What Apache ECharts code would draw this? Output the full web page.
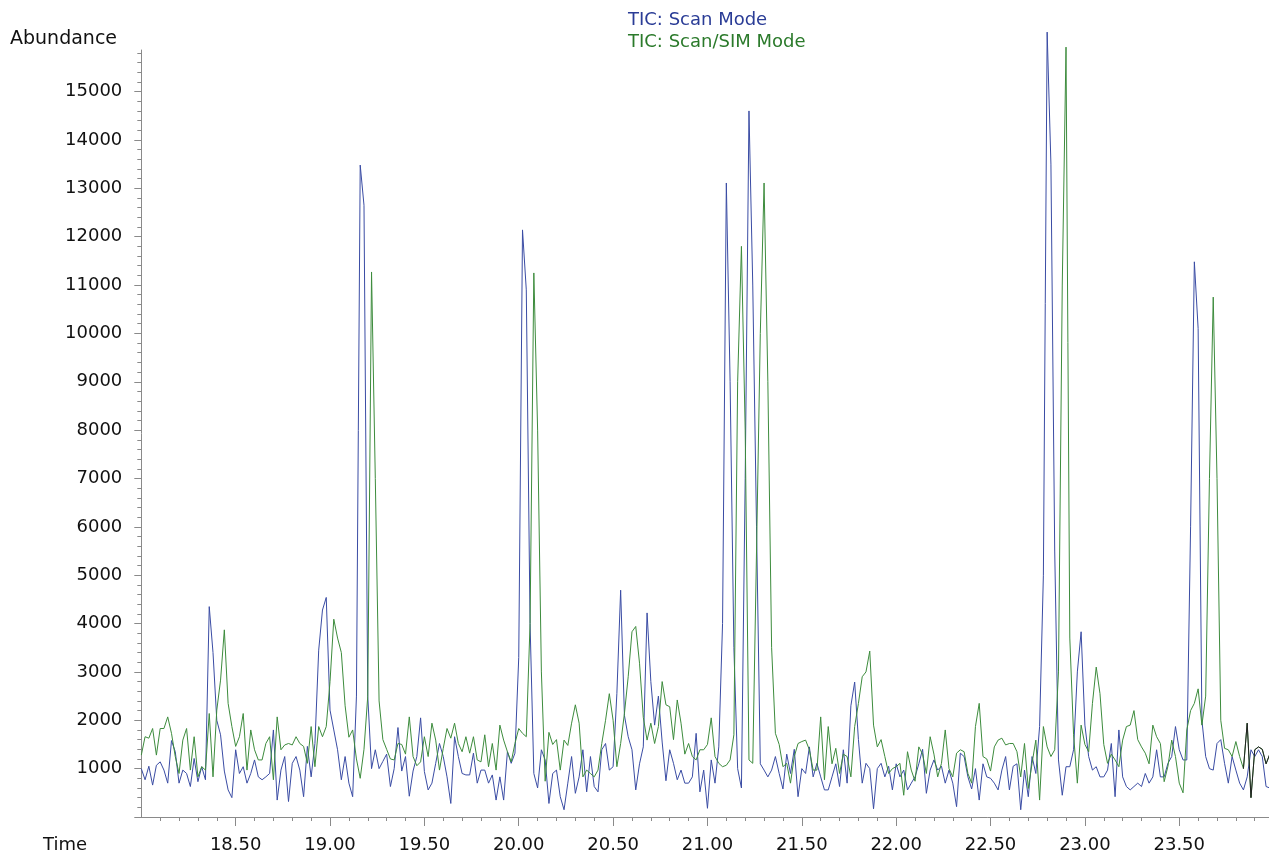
<!DOCTYPE html>
<html>
<head>
<meta charset="utf-8">
<title>TIC: Scan Mode vs Scan/SIM Mode</title>
<script src="https://cdn.jsdelivr.net/npm/echarts@6/dist/echarts.min.js"></script>
<style>
  html, body { margin: 0; padding: 0; background: #ffffff; }
  #chart { width: 1269px; height: 854px; }
</style>
</head>
<body>
<div id="chart"></div>
<script>
// Acquisition: one scan every 0.02 min, starting at 18.00 min
const scanStart = 18.0;
const scanStep = 0.02;

const seriesNames = ['TIC: Scan Mode', 'TIC: Scan/SIM Mode'];

// Total ion current, Scan mode (abundance per scan)
const scanModeTIC = [
  1000, 770, 1050, 660, 1070, 1140, 970, 700, 1580, 1350,
  700, 970, 900, 630, 1210, 730, 1040, 770, 4350, 3400,
  2000, 1700, 950, 560, 400, 1390, 900, 1040, 700, 900,
  1180, 830, 770, 830, 900, 1800, 350, 970, 1250, 320,
  1110, 1250, 970, 420, 1460, 830, 1520, 3450, 4280, 4540,
  2210, 1800, 1390, 770, 1250, 700, 420, 2500, 13480, 12650,
  2500, 1000, 1390, 1000, 1150, 1300, 630, 1000, 1850, 950,
  1250, 430, 950, 1250, 2050, 940, 560, 700, 1110, 1520,
  1250, 830, 280, 1660, 1250, 900, 870, 870, 1320, 700,
  970, 970, 700, 870, 350, 830, 350, 1350, 1110, 1320,
  3300, 12140, 10900, 4000, 900, 600, 1390, 1180, 280, 900,
  970, 420, 150, 700, 1250, 490, 830, 1390, 520, 1250,
  630, 520, 1390, 1520, 970, 1040, 2550, 4690, 2100, 1660,
  1390, 560, 1100, 1450, 4220, 2800, 1900, 2500, 1550, 750,
  1390, 1110, 770, 970, 700, 700, 830, 1730, 520, 970,
  180, 1180, 700, 1450, 4000, 13110, 9000, 3500, 1000, 600,
  7000, 14600, 11000, 6000, 1100, 970, 830, 970, 1250, 900,
  580, 1300, 900, 1400, 420, 1000, 900, 1450, 830, 1110,
  830, 560, 560, 830, 1100, 630, 1390, 700, 2300, 2790,
  1600, 700, 1110, 1000, 170, 1000, 1110, 830, 1050, 560,
  1100, 830, 970, 560, 700, 830, 1100, 1400, 490, 970,
  1180, 970, 1050, 700, 970, 700, 214, 1320, 1250, 830,
  580, 1000, 350, 1100, 830, 800, 700, 560, 970, 1250,
  560, 1050, 1100, 150, 970, 420, 1250, 900, 1870, 5000,
  16230, 13500, 5500, 1180, 450, 1040, 1040, 1390, 3000, 3830,
  1900, 1250, 970, 1040, 830, 830, 970, 1520, 420, 1800,
  830, 630, 560, 630, 700, 630, 900, 700, 830, 1390,
  830, 830, 1110, 1250, 1870, 1390, 1180, 1180, 6000, 11480,
  10100, 2000, 1250, 1000, 970, 1520, 1600, 1110, 700, 1250,
  970, 700, 560, 830, 1390, 1250, 1390, 1250, 630, 600
];

// Total ion current, Scan/SIM mode (abundance per scan)
const scanSimModeTIC = [
  1280, 1660, 1630, 1830, 1280, 1830, 1830, 2070, 1730, 1250,
  900, 1590, 1830, 970, 1660, 830, 1040, 970, 2140, 830,
  2210, 2830, 3870, 2350, 1870, 1460, 1660, 2140, 970, 1800,
  1390, 1180, 1180, 1520, 1660, 770, 2070, 1390, 1490, 1520,
  1490, 1660, 1520, 1460, 1110, 1870, 1040, 1870, 1660, 1870,
  2800, 4090, 3700, 3400, 2300, 1650, 1800, 1200, 800, 1400,
  2500, 11270, 7000, 2400, 1600, 1400, 1200, 1180, 1520, 1500,
  1300, 2070, 1250, 1060, 1140, 1660, 1250, 1940, 1590, 970,
  1420, 1830, 1630, 1940, 1520, 1350, 1660, 1320, 1660, 1180,
  1140, 1700, 1040, 1520, 970, 1900, 1590, 1350, 1140, 1520,
  1830, 1730, 1660, 4000, 11250, 8000, 3000, 740, 1750, 1500,
  1600, 970, 1590, 1480, 1940, 2320, 1940, 830, 970, 900,
  830, 970, 1520, 2000, 2550, 2000, 1040, 1520, 2140, 2900,
  3830, 3940, 3180, 2060, 1590, 1940, 1520, 1870, 2800, 2320,
  2280, 1600, 2420, 1940, 1300, 1520, 1250, 1180, 1390, 1390,
  1500, 2050, 1250, 1110, 1040, 1070, 1180, 1700, 9000, 11800,
  8000, 1180, 1110, 5500, 10000, 13110, 9000, 3500, 1730, 1500,
  1040, 1110, 700, 1250, 1520, 1560, 1590, 1390, 970, 970,
  2070, 770, 1870, 1100, 1420, 900, 1300, 1250, 830, 1870,
  2350, 2900, 3000, 3430, 1900, 1450, 1600, 1250, 900, 1000,
  1040, 1110, 450, 1350, 970, 740, 1450, 1300, 900, 1660,
  1300, 830, 1110, 1800, 1000, 830, 1320, 1390, 1350, 900,
  700, 1870, 2350, 1250, 1200, 950, 1450, 1590, 1630, 1490,
  1520, 1520, 1350, 830, 1520, 590, 1110, 1590, 350, 1870,
  1450, 1250, 1390, 3000, 11000, 15920, 3700, 1700, 700, 1900,
  1500, 1350, 2350, 3100, 2550, 1500, 1110, 1300, 1180, 1040,
  1590, 1870, 1900, 2200, 1600, 1450, 1320, 1100, 1900, 1660,
  1520, 730, 1050, 1590, 1250, 700, 500, 1800, 2200, 2350,
  2650, 1900, 2500, 7000, 10750, 7000, 2000, 1420, 1390, 1250,
  1560, 1250, 1000, 1940, 400, 1390, 1450, 1400, 1100, 1300
];

// The Scan/SIM trace is drawn dark from this retention time on
const darkTailFrom = 23.84;

// Axis ranges and labelled ticks
const timeMin = 18.0;
const timeMax = 23.975;
const abundanceMin = 0;
const abundanceMax = 15860;
const timeTickLabels = [18.5, 19.0, 19.5, 20.0, 20.5, 21.0, 21.5, 22.0, 22.5, 23.0, 23.5];
const abundanceTickLabels = [1000, 2000, 3000, 4000, 5000, 6000, 7000, 8000,
  9000, 10000, 11000, 12000, 13000, 14000, 15000];

// Minor ticks: every 0.1 min and every 200 counts
const timeMinorTicks = [];
for (let k = 181; k < 240; k++) {
  if (k % 5 !== 0) timeMinorTicks.push(k / 10);
}
const abundanceMinorTicks = [];
for (let k = 1; k * 200 <= 15800; k++) {
  if (k % 5 !== 0) abundanceMinorTicks.push(k * 200);
}
const abundanceMajorTicks = [0].concat(abundanceTickLabels);

const toPairs = values => values.map((v, i) => [+(scanStart + i * scanStep).toFixed(2), v]);
const scanPairs = toPairs(scanModeTIC);
const simPairs = toPairs(scanSimModeTIC);
const simTail = simPairs.filter(p => p[0] >= darkTailFrom);

const FONT = 'DejaVu Sans';
const AXIS_GREY = '#8a8a8a';
const BLUE_LINE = '#3a4ca4';
const GREEN_LINE = '#3d8c3d';
const TAIL_LINE = '#222222';
const BLUE_TEXT = '#2a3c96';
const GREEN_TEXT = '#2b7a2b';

const chart = echarts.init(document.getElementById('chart'), null, { renderer: 'canvas' });

chart.setOption({
  animation: false,
  backgroundColor: '#ffffff',
  grid: { left: 141.3, right: 0.1, top: 50, bottom: 37, containLabel: false },
  legend: {
    orient: 'vertical',
    left: 618,
    top: 4,
    icon: 'none',
    itemWidth: 0,
    itemHeight: 0,
    itemGap: 0,
    selectedMode: false,
    data: [
      { name: seriesNames[0], textStyle: { color: BLUE_TEXT } },
      { name: seriesNames[1], textStyle: { color: GREEN_TEXT } }
    ],
    textStyle: { fontFamily: FONT, fontSize: 18, lineHeight: 22 }
  },
  graphic: [
    { type: 'text', x: 10, y: 39, style: { text: 'Abundance', font: '19px "DejaVu Sans"', fill: '#111', verticalAlign: 'middle', align: 'left' } },
    { type: 'text', x: 43, y: 845, style: { text: 'Time', font: '18px "DejaVu Sans"', fill: '#111', verticalAlign: 'middle', align: 'left' } }
  ],
  xAxis: [
    {
      type: 'value',
      min: timeMin,
      max: timeMax,
      position: 'bottom',
      axisLine: { show: true, onZero: false, lineStyle: { color: AXIS_GREY, width: 1 } },
      axisTick: { show: true, length: 9, lineStyle: { color: AXIS_GREY }, customValues: timeTickLabels },
      axisLabel: {
        show: true, margin: 19, color: '#111', fontFamily: FONT, fontSize: 18,
        customValues: timeTickLabels,
        formatter: v => v.toFixed(2)
      },
      splitLine: { show: false }
    },
    {
      type: 'value',
      min: timeMin,
      max: timeMax,
      position: 'bottom',
      axisLine: { show: false, onZero: false },
      axisTick: { show: true, length: 4, lineStyle: { color: AXIS_GREY }, customValues: timeMinorTicks },
      axisLabel: { show: false },
      splitLine: { show: false }
    }
  ],
  yAxis: [
    {
      type: 'value',
      min: abundanceMin,
      max: abundanceMax,
      position: 'left',
      axisLine: { show: true, onZero: false, lineStyle: { color: AXIS_GREY, width: 1 } },
      axisTick: { show: true, length: 7, lineStyle: { color: AXIS_GREY }, customValues: abundanceMajorTicks },
      axisLabel: {
        show: true, margin: 19, color: '#111', fontFamily: FONT, fontSize: 18,
        customValues: abundanceTickLabels,
        formatter: v => String(v)
      },
      splitLine: { show: false }
    },
    {
      type: 'value',
      min: abundanceMin,
      max: abundanceMax,
      position: 'left',
      axisLine: { show: false, onZero: false },
      axisTick: { show: true, length: 4, lineStyle: { color: AXIS_GREY }, customValues: abundanceMinorTicks },
      axisLabel: { show: false },
      splitLine: { show: false }
    }
  ],
  series: [
    {
      name: seriesNames[0],
      type: 'line',
      xAxisIndex: 0,
      yAxisIndex: 0,
      data: scanPairs,
      showSymbol: false,
      symbol: 'none',
      clip: false,
      color: BLUE_LINE,
      lineStyle: { width: 1, color: BLUE_LINE },
      emphasis: { disabled: true }
    },
    {
      name: seriesNames[1],
      type: 'line',
      xAxisIndex: 0,
      yAxisIndex: 0,
      data: simPairs,
      showSymbol: false,
      symbol: 'none',
      clip: false,
      color: GREEN_LINE,
      lineStyle: { width: 1, color: GREEN_LINE },
      emphasis: { disabled: true }
    },
    {
      name: 'Scan/SIM tail',
      type: 'line',
      xAxisIndex: 0,
      yAxisIndex: 0,
      data: simTail,
      showSymbol: false,
      symbol: 'none',
      clip: false,
      color: TAIL_LINE,
      lineStyle: { width: 1, color: TAIL_LINE },
      emphasis: { disabled: true }
    }
  ]
});
</script>
</body>
</html>
